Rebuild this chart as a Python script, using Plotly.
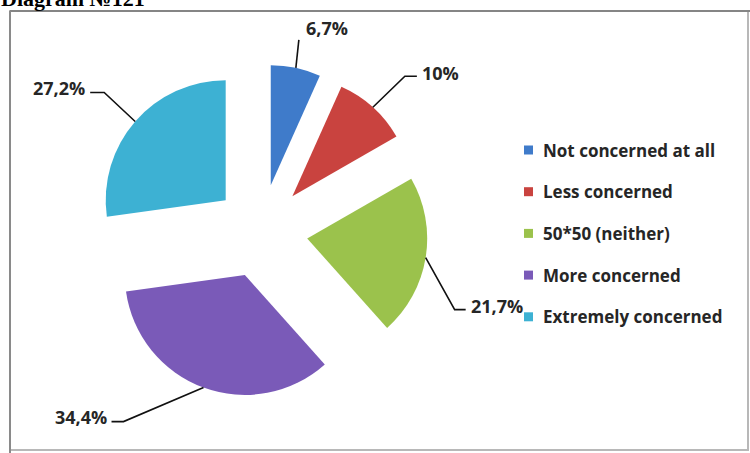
import math
import plotly.graph_objects as go

# ---------------- data ----------------
categories = ["Not concerned at all", "Less concerned", "50*50 (neither)",
              "More concerned", "Extremely concerned"]
values = [6.7, 10, 21.7, 34.4, 27.2]
title_text = "Diagram №121"

# ---------------- style ----------------
W, H = 750, 453
colors = ["#3F7BCA", "#C9433F", "#9BC24C", "#7A5AB8", "#3DB1D3"]
CX, CY, R, PULL = 261, 231, 120, 0.39      # pie centre / radius in pixels
TEXT_COLOR = "#262626"
FONT = "Open Sans"
# leader-line layout per label: elbow offset from slice edge (px), tail length (px), text side
LABEL_LAYOUT = [
    dict(elbow=(3, -28), tail=0, side="right", text_dx=5, text_dy=-12),
    dict(elbow=(32, -31), tail=12, side="right", text_dx=3, text_dy=-3),
    dict(elbow=(29, 52), tail=11, side="right", text_dx=3, text_dy=-4),
    dict(elbow=(-80, 34), tail=-12, side="left", text_dx=-3, text_dy=-5),
    dict(elbow=(-31, -29), tail=-14, side="left", text_dx=-3, text_dy=-4),
]
LEG_X, LEG_Y0, LEG_DY, LEG_SQ = 524, 150, 41.7, 9


def px(x):
    return x / W


def py(y):
    return 1 - y / H


box = R * (2 + 2 * PULL)
fig = go.Figure()
fig.add_trace(go.Pie(
    labels=categories,
    values=values,
    sort=False,
    direction="clockwise",
    rotation=0,
    pull=[PULL] * len(values),
    marker=dict(colors=colors, line=dict(width=0)),
    textinfo="none",
    showlegend=False,
    domain=dict(x=[px(CX - box / 2), px(CX + box / 2)],
                y=[py(CY + box / 2), py(CY - box / 2)]),
))

shapes = []
annotations = []

# frame
shapes.append(dict(type="rect", xref="paper", yref="paper",
                   x0=px(10), y0=py(450), x1=px(748), y1=py(11),
                   line=dict(color="#b8b8b8", width=2)))
shapes.append(dict(type="line", xref="paper", yref="paper",
                   x0=px(10), y0=py(11), x1=px(750), y1=py(11),
                   line=dict(color="#858585", width=2)))
shapes.append(dict(type="line", xref="paper", yref="paper",
                   x0=px(10), y0=py(11), x1=px(10), y1=py(453),
                   line=dict(color="#8a8a8a", width=2)))

# data labels with leader lines
total = sum(values)
cum = 0
for v, lay in zip(values, LABEL_LAYOUT):
    mid = (cum + v / 2) / total * 2 * math.pi
    cum += v
    ex = CX + R * (1 + PULL) * math.sin(mid)
    ey = CY - R * (1 + PULL) * math.cos(mid)
    bx, by = ex + lay["elbow"][0], ey + lay["elbow"][1]
    tx = bx + lay["tail"]
    path = f"M {px(ex)},{py(ey)} L {px(bx)},{py(by)} L {px(tx)},{py(by)}"
    shapes.append(dict(type="path", xref="paper", yref="paper", path=path,
                       line=dict(color="#111111", width=1.6)))
    label = f"{v:g}".replace(".", ",") + "%"
    annotations.append(dict(
        text=f"<b>{label}</b>", xref="paper", yref="paper",
        x=px(tx + lay["text_dx"]), y=py(by + lay["text_dy"]),
        xanchor="left" if lay["side"] == "right" else "right", yanchor="middle",
        showarrow=False, font=dict(family=FONT, size=18, color=TEXT_COLOR)))

# legend (drawn manually for the original's wide spacing)
for i, (cat, col) in enumerate(zip(categories, colors)):
    yc = LEG_Y0 + i * LEG_DY
    shapes.append(dict(type="rect", xref="paper", yref="paper",
                       x0=px(LEG_X), x1=px(LEG_X + LEG_SQ),
                       y0=py(yc + LEG_SQ / 2), y1=py(yc - LEG_SQ / 2),
                       fillcolor=col, line=dict(width=0)))
    annotations.append(dict(
        text=f"<b>{cat}</b>", xref="paper", yref="paper",
        x=px(LEG_X + LEG_SQ + 8), y=py(yc), xanchor="left", yanchor="middle",
        showarrow=False, font=dict(family=FONT, size=17, color=TEXT_COLOR)))

# title (cut off at the top like the original)
annotations.append(dict(
    text=f"<b>{title_text}</b>", xref="paper", yref="paper",
    x=px(-1), y=py(13), xanchor="left", yanchor="bottom", showarrow=False,
    font=dict(family="Liberation Serif", size=22, color="#000000")))

fig.update_layout(
    width=W, height=H,
    margin=dict(l=0, r=0, t=0, b=0),
    paper_bgcolor="white",
    plot_bgcolor="white",
    shapes=shapes,
    annotations=annotations,
    showlegend=False,
)

fig.write_html("out.html",
               config={"displayModeBar": False},
               post_script="document.body.style.margin='0';document.body.style.padding='0';")
